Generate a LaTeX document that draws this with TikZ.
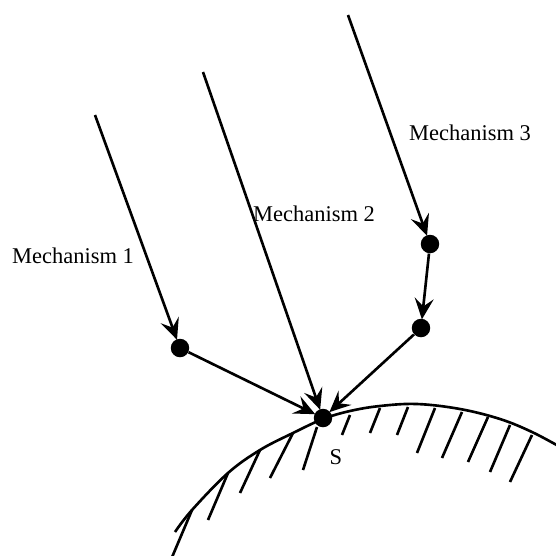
\documentclass[tikz,border=0pt]{standalone}
\usepackage{fontspec}
\setmainfont{Liberation Serif}
\usetikzlibrary{arrows.meta,positioning}
\tikzset{
  site/.style={circle,fill=black,inner sep=0pt,minimum size=0.37cm},
  mechlabel/.style={inner sep=0pt,font=\fontsize{12.8}{14}\selectfont},
  mecharr/.style={-{Stealth[length=4.2mm,width=3.8mm,inset=1.6mm]},line width=1.5pt,shorten >=-0.5pt},
  hatch/.style={line width=1.5pt}
}

\begin{document}
\begin{tikzpicture}[x=0.02cm,y=-0.02cm]
      \useasboundingbox (0,0) rectangle (556,556);
      \clip (0,0) rectangle (556,556);
      % surface and its hatching
      \draw[line width=1.5pt] plot[smooth,tension=0.6] coordinates
        {(175,532) (192,510) (228,473) (260,450) (293,433) (323,419) (350,411)
         (380,406) (417,404) (460,409) (500,419) (532,432) (562,448)};
      \foreach \xa/\ya/\xb/\yb in {192/510/170/562, 228/473/208/520, 260/450/240/493,
          293/433/270/478, 317/427/303/470, 350/415/342/435, 380/408/370/433,
          408/407/397/435, 435/408/417/453, 462/412/442/458, 488/417/468/462,
          510/425/490/472, 532/435/510/482}
        \draw[hatch] (\xa,\ya) -- (\xb,\yb);
      % sites
      \node[site] (s) at (323,418) {};
      \node[site] (d1) at (180,348) {};
      \node[site] (d3a) at (430,244) {};
      \node[site] (d3b) at (421,328) {};
      \coordinate (m1) at (95,115);
      \coordinate (m2) at (203,72);
      \coordinate (m3) at (348,15);
      % paths
      \draw[mecharr] (m1) -- (d1);
      \draw[mecharr] (d1) -- (s);
      \draw[mecharr] (m2) -- (s);
      \draw[mecharr] (m3) -- (d3a);
      \draw[mecharr] (d3a) -- (d3b);
      \draw[mecharr] (d3b) -- (s);
      % labels
      \node[mechlabel] (l1) at (73,256) {Mechanism 1};
      \node[mechlabel] (l2) at (314,214) {Mechanism 2};
      \node[mechlabel] (l3) at (470,133) {Mechanism 3};
      \node[mechlabel] (ls) at (336,457) {S};
\end{tikzpicture}
\end{document}
